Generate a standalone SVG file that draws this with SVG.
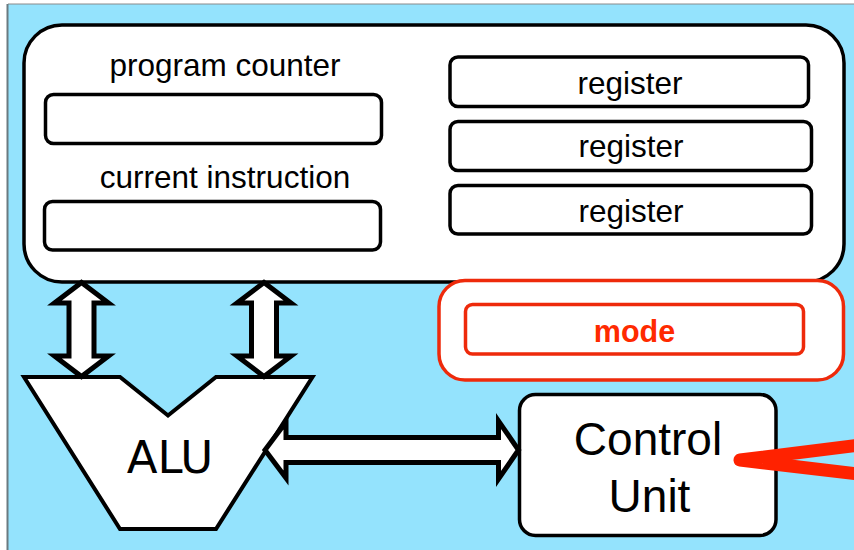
<svg xmlns="http://www.w3.org/2000/svg" width="854" height="550" viewBox="0 0 854 550">
  <style>
    .box { fill: #ffffff; stroke: #000000; stroke-width: 3.5; }
    .reg { fill: #ffffff; stroke: #000000; stroke-width: 3.5; }
    .redbox { fill: #ffffff; stroke: #EE2A0B; stroke-width: 3.5; }
    .lbl { font-family: "Liberation Sans", Arial, sans-serif; font-size: 31.5px; fill: #000000; text-anchor: middle; }
    .big { font-family: "Liberation Sans", Arial, sans-serif; font-size: 46px; fill: #000000; text-anchor: middle; }
    .mode { font-family: "Liberation Sans", Arial, sans-serif; font-size: 30.5px; font-weight: bold; fill: #FF2A00; text-anchor: middle; }
    .dbl { fill: #ffffff; stroke: #000000; stroke-width: 5; stroke-linejoin: miter; stroke-miterlimit: 10; }
    .sig { fill: none; stroke: #FF2200; stroke-width: 13; stroke-linecap: round; stroke-linejoin: round; }
  </style>

  <!-- background frame -->
  <rect x="0" y="0" width="854" height="550" fill="#ffffff"/>
  <rect x="8" y="4" width="850" height="550" fill="#94E3FD"/>
  <line x1="8" y1="4" x2="854" y2="4" stroke="#8a8a8a" stroke-width="1"/>
  <line x1="7.5" y1="4" x2="7.5" y2="550" stroke="#6a7a80" stroke-width="2"/>

  <g id="registers-panel">
    <rect class="box" x="24" y="25" width="820" height="257" rx="38" ry="38"/>
  </g>

  <g id="program-counter">
    <text class="lbl" x="225" y="76">program counter</text>
    <rect class="reg" x="45.5" y="94.5" width="336" height="49" rx="8" ry="8"/>
  </g>

  <g id="current-instruction">
    <text class="lbl" x="225" y="188">current instruction</text>
    <rect class="reg" x="44.5" y="201.5" width="336" height="48.5" rx="8" ry="8"/>
  </g>

  <g id="register-1">
    <rect class="reg" x="450" y="57" width="358.5" height="49.5" rx="8" ry="8"/>
    <text class="lbl" x="630" y="94">register</text>
  </g>
  <g id="register-2">
    <rect class="reg" x="450" y="121.5" width="361.5" height="49" rx="8" ry="8"/>
    <text class="lbl" x="631" y="157">register</text>
  </g>
  <g id="register-3">
    <rect class="reg" x="450" y="185.5" width="361.5" height="48.5" rx="8" ry="8"/>
    <text class="lbl" x="631" y="222">register</text>
  </g>

  <g id="mode-panel">
    <rect class="redbox" x="439" y="280.5" width="404.5" height="99.5" rx="26" ry="26"/>
    <rect class="redbox" x="465.5" y="304.5" width="338" height="49.5" rx="7" ry="7"/>
    <text class="mode" x="634.5" y="341.5">mode</text>
  </g>

  <g id="alu">
    <polygon points="24,377 120,377 168,415.5 216,377 312.5,377 216,529 120,529" fill="#ffffff" stroke="#000000" stroke-width="4" stroke-linejoin="miter"/>
    <text x="170" y="473" font-family="'DejaVu Sans', sans-serif" font-size="45" fill="#000000" text-anchor="middle">ALU</text>
  </g>

  <g id="control-unit">
    <rect class="box" x="519.5" y="394.5" width="256.5" height="141" rx="16" ry="16"/>
    <text class="big" x="648" y="455">Control</text>
    <text class="big" x="649.5" y="512">Unit</text>
  </g>

  <g id="connectors">
    <path class="dbl" d="M81.5,282.5 L108.5,303 L94,303 L94,356 L108.5,356 L81.5,376.5 L54.5,356 L69,356 L69,303 L54.5,303 Z"/>
    <path class="dbl" d="M264,282.5 L291,303 L276.5,303 L276.5,356 L291,356 L264,376.5 L237,356 L251.5,356 L251.5,303 L237,303 Z"/>
    <path class="dbl" d="M265,450 L286,422 L286,437.5 L498.5,437.5 L498.5,421 L518.5,450 L498.5,479 L498.5,462.5 L286,462.5 L286,478 Z"/>
    <polyline class="sig" points="900,440 740,460 900,479"/>
  </g>
</svg>
